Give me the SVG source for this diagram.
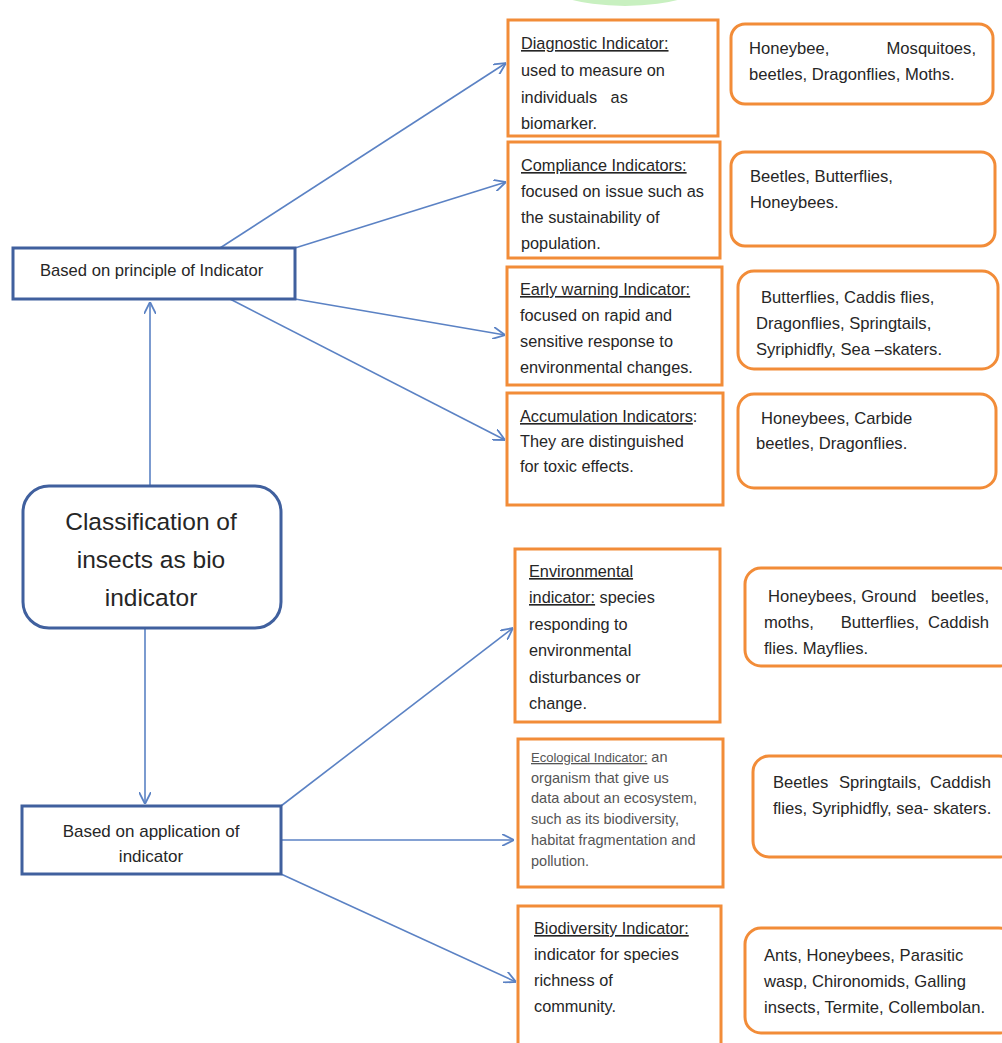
<svg xmlns="http://www.w3.org/2000/svg" width="1002" height="1043" viewBox="0 0 1002 1043">
<style>
.bx{fill:#fff;stroke:#40609e;stroke-width:3}
.ob{fill:#fff;stroke:#f28c38;stroke-width:3}
.t{font-family:"Liberation Sans",Arial,sans-serif;font-size:16.3px;fill:#262626}
.r{font-size:16.6px}
.s{font-family:"Liberation Sans",Arial,sans-serif;font-size:14.5px;fill:#555}
.u{text-decoration:underline}
.c{stroke:#5b82c4;stroke-width:1.6;fill:none;marker-end:url(#ah)}
</style>
<defs>
<marker id="ah" markerWidth="12" markerHeight="12" refX="10" refY="5" orient="auto" markerUnits="userSpaceOnUse" viewBox="0 0 10 10">
<path d="M0,0 L10,5 L0,10" fill="none" stroke="#5b82c4" stroke-width="1.5"/>
</marker>
<clipPath id="cp1"><rect x="500" y="142" width="230" height="112"/></clipPath>
<clipPath id="cp2"><rect x="730" y="260" width="272" height="105"/></clipPath>
<clipPath id="cp3"><rect x="730" y="560" width="272" height="98"/></clipPath>
</defs>
<rect width="1002" height="1043" fill="#fff"/>
<ellipse cx="625" cy="-22" rx="85" ry="28" fill="#c8f0c0"/>

<g id="connectors">
<line class="c" x1="150" y1="486" x2="150" y2="302"/>
<line class="c" x1="145" y1="628" x2="145" y2="804"/>
<line class="c" x1="220" y1="248" x2="506" y2="63"/>
<line class="c" x1="295" y1="248" x2="506" y2="182"/>
<line class="c" x1="295" y1="299" x2="505" y2="335"/>
<line class="c" x1="230" y1="299" x2="505" y2="440"/>
<line class="c" x1="281" y1="806" x2="513" y2="628"/>
<line class="c" x1="281" y1="840" x2="514" y2="840"/>
<line class="c" x1="281" y1="874" x2="516" y2="982"/>
</g>

<g id="principle">
<rect class="bx" x="13" y="248" width="282" height="51"/>
<text class="t" x="40" y="276" style="font-size:16.6px">Based on principle of Indicator</text>
</g>

<g id="main">
<rect class="bx" x="23" y="486" width="258" height="142" rx="26"/>
<text class="t" x="151" y="530" text-anchor="middle" style="font-size:24.5px">Classification of</text>
<text class="t" x="151" y="568" text-anchor="middle" style="font-size:24.5px">insects as bio</text>
<text class="t" x="151" y="606" text-anchor="middle" style="font-size:24.5px">indicator</text>
</g>

<g id="application">
<rect class="bx" x="22" y="806" width="259" height="68"/>
<text class="t" x="151" y="837" text-anchor="middle" style="font-size:17px">Based on application of</text>
<text class="t" x="151" y="862" text-anchor="middle" style="font-size:17px">indicator</text>
</g>

<g id="diagnostic">
<rect class="ob" x="508" y="20" width="210" height="116"/>
<text class="t u" x="521" y="49">Diagnostic Indicator:</text>
<text class="t" x="521" y="76">used to measure on</text>
<text class="t" x="521" y="103" xml:space="preserve">individuals   as</text>
<text class="t" x="521" y="129">biomarker.</text>
</g>

<g id="compliance">
<rect class="ob" x="508" y="142" width="212" height="116"/>
<g clip-path="url(#cp1)">
<text class="t u" x="521" y="171">Compliance Indicators:</text>
<text class="t" x="521" y="197">focused on issue such as</text>
<text class="t" x="521" y="223">the sustainability of</text>
<text class="t" x="521" y="249">population.</text>
</g>
</g>

<g id="early">
<rect class="ob" x="507" y="267" width="215" height="118"/>
<text class="t u" x="520" y="295">Early warning Indicator:</text>
<text class="t" x="520" y="321">focused on rapid and</text>
<text class="t" x="520" y="347">sensitive response to</text>
<text class="t" x="520" y="373">environmental changes.</text>
</g>

<g id="accumulation">
<rect class="ob" x="507" y="393" width="216" height="112"/>
<text class="t" x="520" y="422"><tspan class="u">Accumulation Indicators</tspan>:</text>
<text class="t" x="520" y="447">They are distinguished</text>
<text class="t" x="520" y="472">for toxic effects.</text>
</g>

<g id="environmental">
<rect class="ob" x="515" y="549" width="205" height="173"/>
<text class="t u" x="529" y="577">Environmental</text>
<text class="t" x="529" y="603"><tspan class="u">indicator:</tspan> species</text>
<text class="t" x="529" y="630">responding to</text>
<text class="t" x="529" y="656">environmental</text>
<text class="t" x="529" y="683">disturbances or</text>
<text class="t" x="529" y="709">change.</text>
</g>

<g id="ecological">
<rect class="ob" x="518" y="739" width="205" height="148"/>
<text class="s" x="531" y="762"><tspan class="u" style="font-size:13px">Ecological Indicator:</tspan> an</text>
<text class="s" x="531" y="783">organism that give us</text>
<text class="s" x="531" y="803">data about an ecosystem,</text>
<text class="s" x="531" y="824">such as its biodiversity,</text>
<text class="s" x="531" y="845">habitat fragmentation and</text>
<text class="s" x="531" y="866">pollution.</text>
</g>

<g id="biodiversity">
<rect class="ob" x="518" y="906" width="203" height="150"/>
<text class="t u" x="534" y="934">Biodiversity Indicator:</text>
<text class="t" x="534" y="960">indicator for species</text>
<text class="t" x="534" y="986">richness of</text>
<text class="t" x="534" y="1012">community.</text>
</g>

<g id="r-diagnostic">
<rect class="ob" x="731" y="24" width="262" height="80" rx="14"/>
<text class="t r" x="749" y="54">Honeybee,</text>
<text class="t r" x="976" y="54" text-anchor="end">Mosquitoes,</text>
<text class="t r" x="749" y="80">beetles, Dragonflies, Moths.</text>
</g>

<g id="r-compliance">
<rect class="ob" x="731" y="152" width="264" height="94" rx="14"/>
<text class="t r" x="750" y="182">Beetles, Butterflies,</text>
<text class="t r" x="750" y="208">Honeybees.</text>
</g>

<g id="r-early">
<rect class="ob" x="738" y="271" width="260" height="98" rx="16"/>
<g clip-path="url(#cp2)">
<text class="t r" x="761" y="303">Butterflies, Caddis flies,</text>
<text class="t r" x="756" y="329">Dragonflies, Springtails,</text>
<text class="t r" x="756" y="355">Syriphidfly, Sea –skaters.</text>
</g>
</g>

<g id="r-accumulation">
<rect class="ob" x="738" y="394" width="258" height="94" rx="16"/>
<text class="t r" x="761" y="424">Honeybees, Carbide</text>
<text class="t r" x="756" y="449">beetles, Dragonflies.</text>
</g>

<g id="r-environmental">
<rect class="ob" x="745" y="568" width="270" height="98" rx="16"/>
<g clip-path="url(#cp3)">
<text class="t r" x="768" y="602">Honeybees, Ground</text>
<text class="t r" x="989" y="602" text-anchor="end">beetles,</text>
<text class="t r" x="764" y="628">moths,</text>
<text class="t r" x="880" y="628" text-anchor="middle">Butterflies,</text>
<text class="t r" x="989" y="628" text-anchor="end">Caddish</text>
<text class="t r" x="764" y="654">flies. Mayflies.</text>
</g>
</g>

<g id="r-ecological">
<rect class="ob" x="753" y="756" width="262" height="101" rx="16"/>
<text class="t r" x="773" y="788">Beetles</text>
<text class="t r" x="880" y="788" text-anchor="middle">Springtails,</text>
<text class="t r" x="991" y="788" text-anchor="end">Caddish</text>
<text class="t r" x="773" y="814">flies, Syriphidfly, sea- skaters.</text>
</g>

<g id="r-biodiversity">
<rect class="ob" x="745" y="928" width="270" height="105" rx="16"/>
<text class="t r" x="764" y="961">Ants, Honeybees, Parasitic</text>
<text class="t r" x="764" y="987">wasp, Chironomids, Galling</text>
<text class="t r" x="764" y="1013">insects, Termite, Collembolan.</text>
</g>
</svg>
